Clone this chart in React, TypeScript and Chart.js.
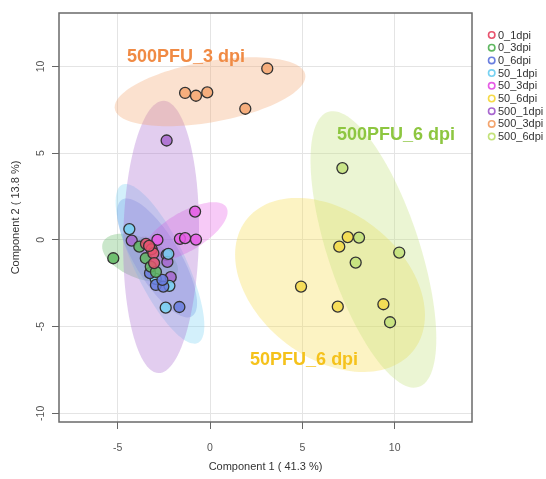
import React, { useEffect, useRef } from "react";
import { Chart, registerables } from "chart.js";

Chart.register(...registerables);

// ---- data ----
const groupNames = ["0_1dpi", "0_3dpi", "0_6dpi", "50_1dpi", "50_3dpi", "50_6dpi", "500_1dpi", "500_3dpi", "500_6dpi"];
const groupColors = ["#E8546E", "#5FB760", "#6A7EDF", "#78D2F2", "#E65DE6", "#F6DA48", "#A867CF", "#F4A56E", "#C3E27A"];

const pts0_1dpi = [[-3.47, -0.23], [-3.16, -0.54], [-3.07, -0.77], [-3.03, -1.34], [-3.3, -0.35]];
const pts0_3dpi = [[-5.24, -1.06], [-3.83, -0.39], [-3.48, -1.06], [-3.21, -1.54], [-2.93, -1.85]];
const pts0_6dpi = [[-3.25, -1.92], [-2.93, -2.6], [-2.53, -2.69], [-2.58, -2.31], [-1.66, -3.87]];
const pts50_1dpi = [[-4.37, 0.62], [-2.26, -0.81], [-2.94, -2.25], [-2.2, -2.65], [-2.4, -3.91]];
const pts50_3dpi = [[-0.81, 1.63], [-1.63, 0.06], [-1.35, 0.1], [-0.76, 0.02], [-2.85, 0.0]];
const pts50_6dpi = [[7.46, 0.16], [7.0, -0.39], [4.93, -2.69], [6.92, -3.85], [9.39, -3.71]];
const pts500_1dpi = [[-2.35, 5.73], [-4.24, -0.04], [-2.35, -0.87], [-2.31, -1.27], [-2.13, -2.15]];
const pts500_3dpi = [[-1.35, 8.47], [-0.76, 8.31], [-0.15, 8.5], [1.91, 7.56], [3.1, 9.88]];
const pts500_6dpi = [[7.17, 4.14], [8.07, 0.13], [7.89, -1.31], [10.25, -0.73], [9.75, -4.75]];
const groupPoints = [pts0_1dpi, pts0_3dpi, pts0_6dpi, pts50_1dpi, pts50_3dpi, pts50_6dpi, pts500_1dpi, pts500_3dpi, pts500_6dpi];

// 95% ellipses: centre, semi-axes and angle (data units / degrees)
const ellipseCenters = [[-3.2, -0.7], [-3.79, -1.04], [-2.87, -1.04], [-2.71, -1.38], [-1.35, 0.46], [6.5, -2.6], [-2.65, 0.17], [0.0, 8.54], [8.85, -0.55]];
const ellipseAxes = [[1.0, 0.5], [2.2, 1.15], [3.86, 1.25], [5.0, 1.4], [2.65, 1.1], [5.9, 4.1], [7.85, 2.05], [5.25, 1.75], [8.3, 2.5]];
const ellipseAngles = [-60, -25, -61, -66, 33, -43, 89, 11, -73];

const xTicks = [-5, 0, 5, 10];
const yTicks = [-10, -5, 0, 5, 10];

const labelTexts = ["500PFU_3 dpi", "500PFU_6 dpi", "50PFU_6 dpi"];
const labelColors = ["#F08A44", "#8DC640", "#F5C21B"];
const labelAnchors = [[-4.5, 10.23], [6.88, 5.77], [2.17, -7.21]];

const xTitle = "Component 1 ( 41.3 %)";
const yTitle = "Component 2 ( 13.8 %)";

function hexA(hex: string, a: number) {
  const r = parseInt(hex.slice(1, 3), 16);
  const g = parseInt(hex.slice(3, 5), 16);
  const b = parseInt(hex.slice(5, 7), 16);
  return `rgba(${r},${g},${b},${a})`;
}

const FONT = "'Liberation Sans', Arial, sans-serif";

const ellipsePlugin = {
  id: "ellipses",
  beforeDatasetsDraw(chart: any) {
    const { ctx, chartArea, scales } = chart;
    const xs = scales.x, ys = scales.y;
    ctx.save();
    ctx.beginPath();
    ctx.rect(chartArea.left, chartArea.top, chartArea.right - chartArea.left, chartArea.bottom - chartArea.top);
    ctx.clip();
    ellipseCenters.forEach((c, i) => {
      const [a, b] = ellipseAxes[i];
      const th = (ellipseAngles[i] * Math.PI) / 180;
      ctx.beginPath();
      for (let k = 0; k <= 120; k++) {
        const t = (k / 120) * Math.PI * 2;
        const dx = a * Math.cos(t) * Math.cos(th) - b * Math.sin(t) * Math.sin(th);
        const dy = a * Math.cos(t) * Math.sin(th) + b * Math.sin(t) * Math.cos(th);
        const px = xs.getPixelForValue(c[0] + dx);
        const py = ys.getPixelForValue(c[1] + dy);
        if (k === 0) ctx.moveTo(px, py);
        else ctx.lineTo(px, py);
      }
      ctx.closePath();
      ctx.fillStyle = hexA(groupColors[i], 0.33);
      ctx.fill();
    });
    ctx.restore();
    ctx.save();
    ctx.strokeStyle = "#6a6a6a";
    ctx.lineWidth = 1.5;
    ctx.strokeRect(chartArea.left, chartArea.top, chartArea.right - chartArea.left, chartArea.bottom - chartArea.top);
    ctx.restore();
  },
  afterDatasetsDraw(chart: any) {
    const { ctx, scales } = chart;
    ctx.save();
    ctx.font = `bold 18px ${FONT}`;
    ctx.textAlign = "left";
    ctx.textBaseline = "alphabetic";
    labelTexts.forEach((t, i) => {
      ctx.fillStyle = labelColors[i];
      ctx.fillText(t, scales.x.getPixelForValue(labelAnchors[i][0]), scales.y.getPixelForValue(labelAnchors[i][1]));
    });
    ctx.restore();
  },
  afterDraw(chart: any) {
    const { ctx, scales } = chart;
    ctx.save();
    // y tick labels, rotated as in the original
    ctx.font = `10.5px ${FONT}`;
    ctx.fillStyle = "#555";
    ctx.textAlign = "center";
    ctx.textBaseline = "middle";
    yTicks.forEach((v) => {
      const py = scales.y.getPixelForValue(v);
      ctx.save();
      ctx.translate(41.5, py);
      ctx.rotate(-Math.PI / 2);
      ctx.fillText(String(v), 0, 0);
      ctx.restore();
    });
    // legend
    ctx.font = `11px ${FONT}`;
    ctx.textAlign = "left";
    ctx.textBaseline = "middle";
    groupNames.forEach((n, i) => {
      const y = 35 + i * 12.7;
      ctx.beginPath();
      ctx.arc(491.7, y, 3.2, 0, Math.PI * 2);
      ctx.strokeStyle = groupColors[i];
      ctx.lineWidth = 1.6;
      ctx.stroke();
      ctx.fillStyle = "#333";
      ctx.fillText(n, 498, y + 0.5);
    });
    ctx.restore();
  },
};

export default function App() {
  const ref = useRef<HTMLCanvasElement>(null);
  useEffect(() => {
    document.body.style.margin = "0";
    const canvas = ref.current!;
    const chart = new Chart(canvas, {
      type: "scatter",
      data: {
        datasets: groupNames.map((name, i) => ({
          label: name,
          data: groupPoints[i].map(([x, y]) => ({ x, y })),
          backgroundColor: hexA(groupColors[i], 0.85),
          borderColor: "#333",
          borderWidth: 1.3,
          pointRadius: 5.5,
          pointHoverRadius: 5.5,
        })),
      },
      options: {
        responsive: false,
        animation: false,
        devicePixelRatio: 1,
        layout: { padding: { top: 13, right: 74, left: 0, bottom: 0 } },
        plugins: { legend: { display: false }, tooltip: { enabled: false } },
        scales: {
          x: {
            type: "linear",
            min: -8.18,
            max: 14.19,
            afterBuildTicks: (s: any) => {
              s.ticks = xTicks.map((v) => ({ value: v }));
            },
            afterFit: (s: any) => {
              s.height = 57;
            },
            grid: { color: "#e4e4e4", tickColor: "#666", tickLength: 7, lineWidth: 1 },
            border: { display: false },
            ticks: { color: "#555", font: { family: FONT, size: 10.5 }, padding: 13, maxRotation: 0 },
            title: { display: true, text: xTitle, color: "#333", font: { family: FONT, size: 11 }, padding: { top: 0, bottom: 5.4 } },
          },
          y: {
            type: "linear",
            min: -10.5,
            max: 13.08,
            afterBuildTicks: (s: any) => {
              s.ticks = yTicks.map((v) => ({ value: v }));
            },
            afterFit: (s: any) => {
              s.width = 59;
            },
            grid: { color: "#e4e4e4", tickColor: "#666", tickLength: 7, lineWidth: 1 },
            border: { display: false },
            ticks: { display: false },
            title: { display: true, text: yTitle, color: "#333", font: { family: FONT, size: 11 }, padding: { top: 9.4, bottom: 0 } },
          },
        },
      },
      plugins: [ellipsePlugin],
    } as any);
    return () => chart.destroy();
  }, []);
  return <canvas ref={ref} width={546} height={479} style={{ display: "block" }} />;
}
